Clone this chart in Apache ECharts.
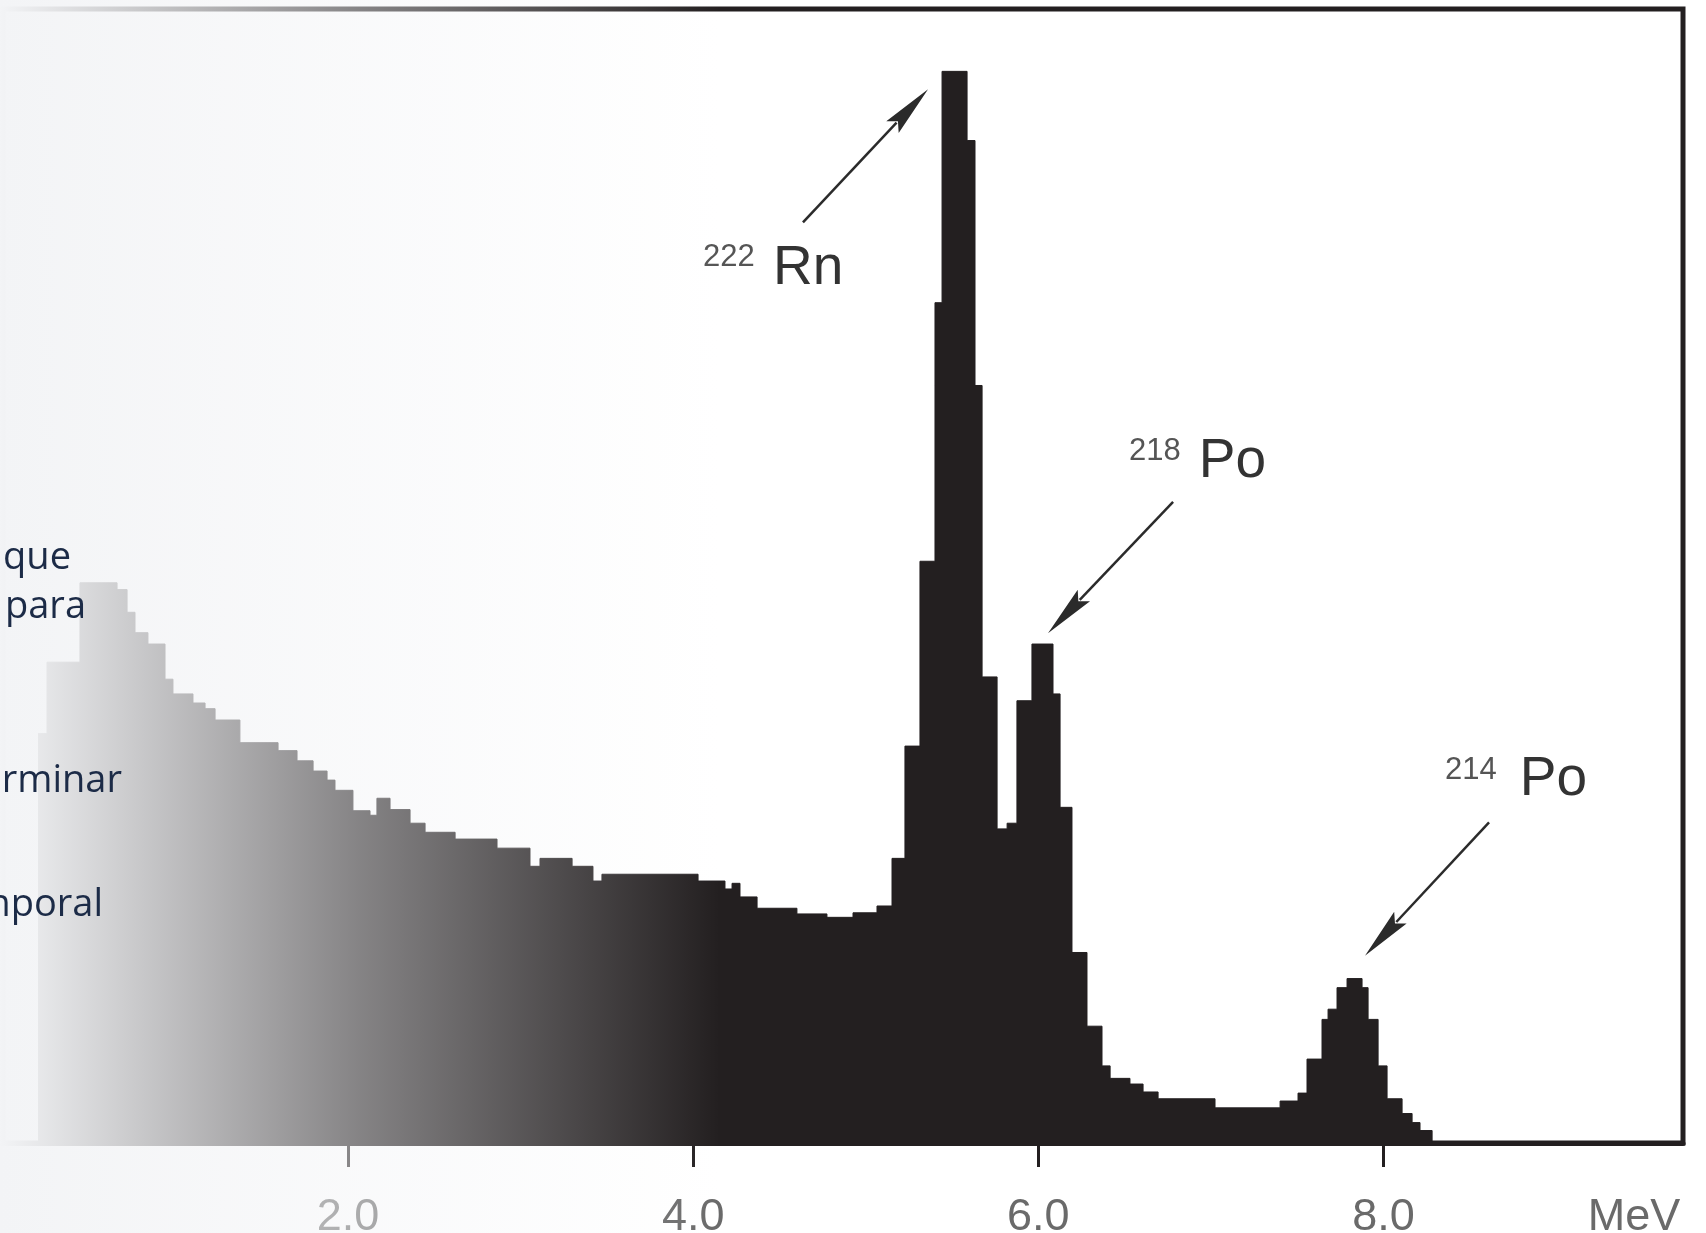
<!DOCTYPE html>
<html>
<head>
<meta charset="utf-8">
<script src="https://cdn.jsdelivr.net/npm/echarts@6/dist/echarts.min.js"></script>
<style>
html,body{margin:0;padding:0;background:#ffffff;}
#main{width:1706px;height:1233px;}
</style>
</head>
<body>
<div id="main"></div>
<script>
// Histogram bin edges (MeV) and counts (arbitrary units)
const binEdges = [0.203, 0.255, 0.446, 0.661, 0.719, 0.765, 0.840, 0.939, 0.985, 1.101,
  1.171, 1.229, 1.373, 1.594, 1.704, 1.797, 1.878, 1.924, 2.028, 2.127,
  2.167, 2.243, 2.359, 2.446, 2.620, 2.863, 3.054, 3.112, 3.298, 3.419,
  3.471, 4.028, 4.184, 4.225, 4.271, 4.370, 4.601, 4.775, 4.926, 5.065,
  5.152, 5.227, 5.314, 5.401, 5.442, 5.587, 5.633, 5.674, 5.761, 5.819,
  5.876, 5.963, 6.085, 6.126, 6.195, 6.282, 6.369, 6.416, 6.531, 6.607,
  6.694, 7.024, 7.401, 7.505, 7.557, 7.644, 7.679, 7.731, 7.789, 7.876,
  7.911, 7.969, 8.021, 8.108, 8.166, 8.212, 8.282];
const binCounts = [361, 424, 494, 488, 468, 450, 440, 409, 396, 388,
  383, 373, 353, 346, 337, 328, 320, 311, 293, 289,
  304, 294, 282, 274, 268, 260, 244, 251, 244, 231,
  237, 231, 224, 229, 217, 207, 202, 199, 203, 209,
  251, 350, 513, 741, 945, 884, 668, 411, 277, 282,
  390, 440, 396, 296, 168, 103, 68, 57, 52, 45,
  39, 31, 37, 44, 74, 109, 118, 137, 145, 137,
  109, 68, 39, 26, 18, 11];
const tickValues = [2, 4, 6, 8];
const axisUnit = 'MeV';
// Peak annotations in data coordinates [MeV, counts]
const peakIsotopes = ['222', '218', '214'];
const peakElements = ['Rn', 'Po', 'Po'];
const arrowTails = [[4.636, 811.8], [6.781, 565.4], [8.612, 282.7]];
const arrowTips = [[5.361, 929.3], [6.056, 449.6], [7.893, 165.2]];
const isoLabelAt = [[4.057, 780.9], [6.526, 609.5], [8.357, 328.6]];
const elemLabelAt = [[4.462, 771.0], [6.930, 601.0], [8.790, 320.0]];
// Fragments of slide text cut by the left edge
const sideWords = ['que', 'para', 'determinar', 'temporal'];

const histData = binEdges.map((e, i) => [e, i < binCounts.length ? binCounts[i] : 0]);

const chart = echarts.init(document.getElementById('main'), null, {renderer: 'canvas'});
const ink = '#231f20';
chart.setOption({
  animation: false,
  backgroundColor: '#ffffff',
  grid: {
    left: 3, right: 23, top: 9, bottom: 90,
    containLabel: false, outerBoundsMode: 'none',
    show: true, borderColor: ink, borderWidth: 5, backgroundColor: 'transparent'
  },
  xAxis: {
    type: 'value', min: 0, max: 9.736, interval: 2,
    splitLine: {show: false},
    axisLine: {show: true, onZero: false, lineStyle: {color: ink, width: 5}},
    axisTick: {show: true, inside: false, length: 24, customValues: tickValues,
      lineStyle: {color: ink, width: 3}},
    axisLabel: {show: true, customValues: tickValues, margin: 52,
      formatter: v => v.toFixed(1),
      fontFamily: 'Liberation Sans', fontSize: 45, color: '#6a6a6a'}
  },
  yAxis: {type: 'value', min: 0, max: 1000, show: false, splitLine: {show: false}},
  series: [{
    type: 'line', step: 'end', data: histData, symbol: 'none', showSymbol: false,
    silent: true, z: 2,
    lineStyle: {color: ink, width: 1},
    areaStyle: {color: ink, opacity: 1},
    emphasis: {disabled: true}
  }]
});

const toPx = p => chart.convertToPixel({xAxisIndex: 0, yAxisIndex: 0}, p);
const graphics = [];
for (let i = 0; i < arrowTails.length; i++) {
  const t = toPx(arrowTails[i]), h = toPx(arrowTips[i]);
  const dx = h[0] - t[0], dy = h[1] - t[1], len = Math.hypot(dx, dy);
  const ux = dx / len, uy = dy / len, nx = -uy, ny = ux;
  const L = 56, W = 8.5;
  const bx = h[0] - ux * L, by = h[1] - uy * L;
  graphics.push({type: 'line', silent: true, z: 50,
    shape: {x1: t[0], y1: t[1], x2: bx + ux * 10, y2: by + uy * 10},
    style: {stroke: '#2b2b2b', lineWidth: 2.5}});
  graphics.push({type: 'polygon', silent: true, z: 50,
    shape: {points: [[h[0], h[1]], [bx + ux * 4 + nx * W, by + uy * 4 + ny * W], [bx + ux * 12, by + uy * 12], [bx + ux * 4 - nx * W, by + uy * 4 - ny * W]]},
    style: {fill: '#2b2b2b'}});
  const s = toPx(isoLabelAt[i]), m = toPx(elemLabelAt[i]);
  graphics.push({type: 'text', silent: true, z: 50, x: s[0], y: s[1],
    style: {text: peakIsotopes[i], fontFamily: 'Liberation Sans', fontSize: 31,
      fill: '#555555', align: 'left', verticalAlign: 'middle'}});
  graphics.push({type: 'text', silent: true, z: 50, x: m[0], y: m[1],
    style: {text: peakElements[i], fontFamily: 'Liberation Sans', fontSize: 55,
      fill: '#333333', align: 'left', verticalAlign: 'middle'}});
}
graphics.push({type: 'text', silent: true, z: 50, x: 1634, y: 1218,
  style: {text: axisUnit, fontFamily: 'Liberation Sans', fontSize: 45, fill: '#6a6a6a',
    align: 'center', verticalAlign: 'middle'}});
// fading overlay from the slide background
graphics.push({type: 'rect', silent: true, z: 100, x: 0, y: 0,
  shape: {x: 0, y: 0, width: 720, height: 1233},
  style: {fill: {type: 'linear', x: 0, y: 0, x2: 1, y2: 0, colorStops: [
    {offset: 0, color: 'rgba(243,244,246,1)'},
    {offset: 0.5, color: 'rgba(243,244,246,0.47)'},
    {offset: 1, color: 'rgba(243,244,246,0)'}]}}});
const sideX = [71, 86, 122, 103];
const sideY = [558, 607, 781, 905];
sideWords.forEach((w, i) => {
  graphics.push({type: 'text', silent: true, z: 110, x: sideX[i], y: sideY[i],
    style: {text: w, fontFamily: 'Open Sans', fontSize: 38, fill: '#1c2b47',
      align: 'right', verticalAlign: 'middle'}});
});
chart.setOption({graphic: {elements: graphics}});
</script>
</body>
</html>
